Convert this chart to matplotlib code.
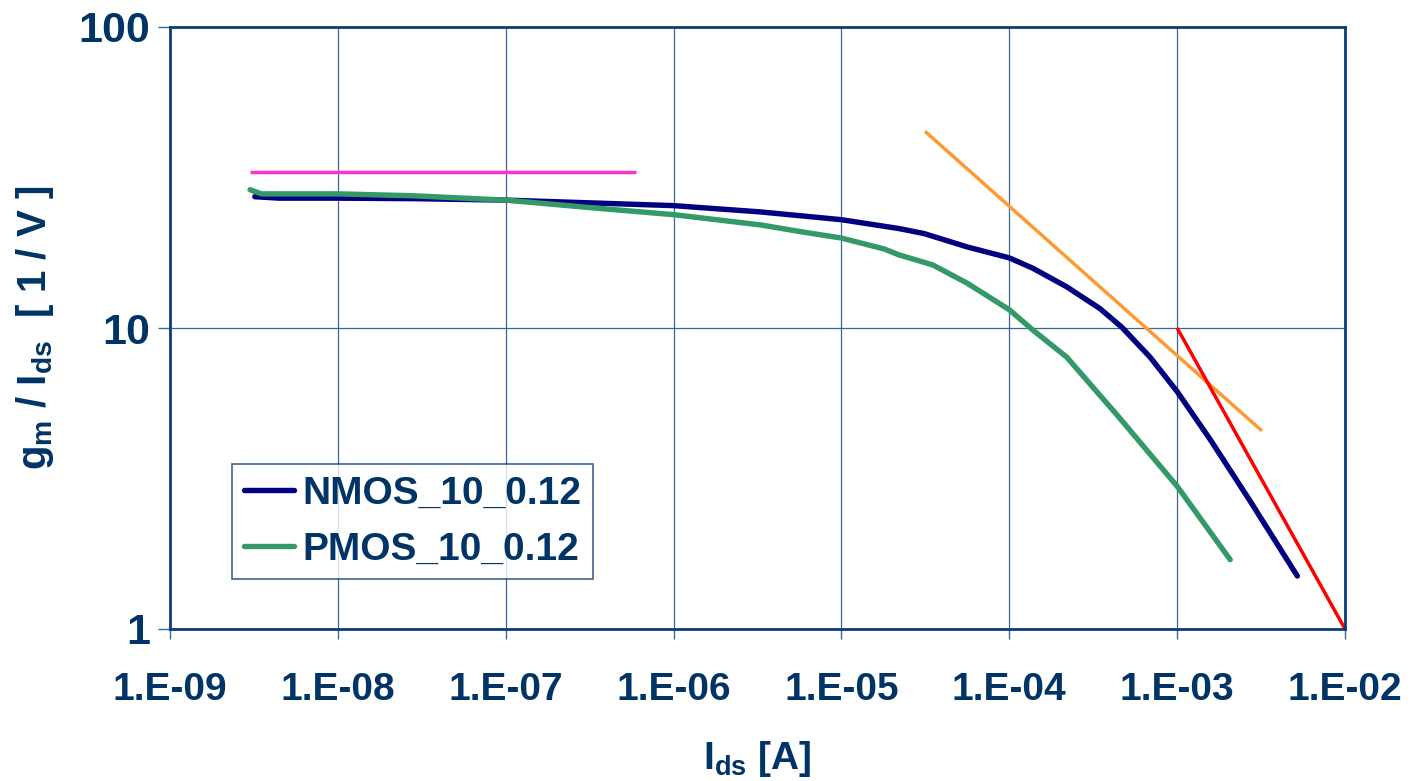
import matplotlib
matplotlib.use("Agg")
import matplotlib.pyplot as plt
from matplotlib.ticker import FixedLocator, NullLocator

# Drain current sweep [A] and transconductance efficiency gm/Ids [1/V]
nmos_ids = [3.2e-9, 4.5e-9, 1e-8, 2.8e-8, 1e-7, 3.5e-7, 1e-6, 3.3e-6, 5.7e-6,
            1e-5, 2.2e-5, 3.1e-5, 5.6e-5, 1e-4, 1.38e-4, 2.2e-4, 3.47e-4,
            4.69e-4, 6.9e-4, 1e-3, 1.57e-3, 2.7e-3, 5.2e-3]
nmos_gm_id = [27.3, 27.0, 27.0, 26.9, 26.6, 26.0, 25.5, 24.3, 23.6,
              22.9, 21.4, 20.6, 18.6, 17.1, 15.8, 13.7, 11.6,
              10.05, 8.0, 6.15, 4.27, 2.68, 1.50]

pmos_ids = [3.0e-9, 3.5e-9, 1e-8, 2.8e-8, 1e-7, 3.5e-7, 1e-6, 3.3e-6, 5.7e-6,
            1e-5, 1.8e-5, 2.2e-5, 3.5e-5, 5.6e-5, 1e-4, 1.38e-4, 2.2e-4,
            4.4e-4, 1e-3, 2.07e-3]
pmos_gm_id = [28.8, 27.9, 27.9, 27.5, 26.6, 25.0, 23.8, 22.0, 20.9,
              19.9, 18.3, 17.5, 16.2, 14.1, 11.5, 9.85, 8.0,
              5.13, 2.98, 1.70]

# Asymptotes: weak inversion (flat), strong inversion (~1/sqrt(I)),
# velocity saturation (~1/I)
weak_ids = [3.0e-9, 6.0e-7]
weak_gm_id = [33.0, 33.0]
strong_ids = [3.15e-5, 3.2e-3]
strong_gm_id = [45.0, 4.55]
velsat_ids = [1e-3, 1e-2]
velsat_gm_id = [10.0, 1.0]

x_ticks = [1e-9, 1e-8, 1e-7, 1e-6, 1e-5, 1e-4, 1e-3, 1e-2]
x_tick_labels = ["1.E-09", "1.E-08", "1.E-07", "1.E-06",
                 "1.E-05", "1.E-04", "1.E-03", "1.E-02"]
y_ticks = [1, 10, 100]
y_tick_labels = ["1", "10", "100"]

TEXT = "#003366"
SPINE = "#0b3d78"
GRID = "#3a6699"

plt.rcParams["font.family"] = ["Liberation Sans", "DejaVu Sans"]
plt.rcParams["font.weight"] = "bold"
plt.rcParams["mathtext.fontset"] = "custom"
plt.rcParams["mathtext.rm"] = "Liberation Sans:bold"
plt.rcParams["mathtext.bf"] = "Liberation Sans:bold"
plt.rcParams["mathtext.it"] = "Liberation Sans:bold"

fig = plt.figure(figsize=(14.1, 7.81), dpi=100)
ax = fig.add_axes([170 / 1410, 1 - 629 / 781, 1175 / 1410, 602 / 781])

ax.set_xscale("log")
ax.set_yscale("log")
ax.set_xlim(1e-9, 1e-2)
ax.set_ylim(1, 100)

ax.grid(True, which="major", color=GRID, linewidth=0.9)
ax.set_axisbelow(True)

ax.plot(weak_ids, weak_gm_id, color="#ff33cc", linewidth=2.5, solid_capstyle="butt")
ax.plot(strong_ids, strong_gm_id, color="#ff9933", linewidth=2.5, solid_capstyle="butt")
ax.plot(velsat_ids, velsat_gm_id, color="#ff0000", linewidth=2.5, solid_capstyle="butt")
ax.plot(nmos_ids, nmos_gm_id, color="#000080", linewidth=3.9,
        solid_capstyle="round", label="NMOS_10_0.12")
ax.plot(pmos_ids, pmos_gm_id, color="#339966", linewidth=3.9,
        solid_capstyle="round", label="PMOS_10_0.12")

ax.xaxis.set_major_locator(FixedLocator(x_ticks))
ax.xaxis.set_minor_locator(NullLocator())
ax.yaxis.set_major_locator(FixedLocator(y_ticks))
ax.yaxis.set_minor_locator(NullLocator())
ax.set_xticklabels(x_tick_labels)
ax.set_yticklabels(y_tick_labels)
ax.tick_params(axis="both", direction="out", width=1,
               color=GRID, labelcolor=TEXT)
ax.tick_params(axis="x", length=7, pad=24, labelsize=28)
ax.tick_params(axis="y", length=8.5, pad=6, labelsize=31)
for lab in ax.get_xticklabels() + ax.get_yticklabels():
    lab.set_fontweight("bold")

for side in ["left", "bottom", "top", "right"]:
    ax.spines[side].set_color(SPINE)
    ax.spines[side].set_linewidth(2.0)

ax.set_xlabel(r"I$_{\mathbf{ds}}$ [A]", fontsize=28, fontweight="bold",
              color=TEXT, labelpad=22)
ax.set_ylabel(r"g$_{\mathbf{m}}$ / I$_{\mathbf{ds}}$  [ 1 / V ]", fontsize=29,
              fontweight="bold", color=TEXT)
ax.yaxis.set_label_coords(-0.097, 0.5)

leg = ax.legend(loc="lower left", bbox_to_anchor=(0.0528, 0.083),
                fontsize=28, frameon=True, fancybox=False, borderpad=0.3,
                handlelength=1.3, handletextpad=0.2, labelspacing=0.5,
                borderaxespad=0)
leg.get_frame().set_edgecolor(SPINE)
leg.get_frame().set_linewidth(1.2)
for txt in leg.get_texts():
    txt.set_color(TEXT)
    txt.set_fontweight("bold")

fig.savefig("out.png", dpi=100)
